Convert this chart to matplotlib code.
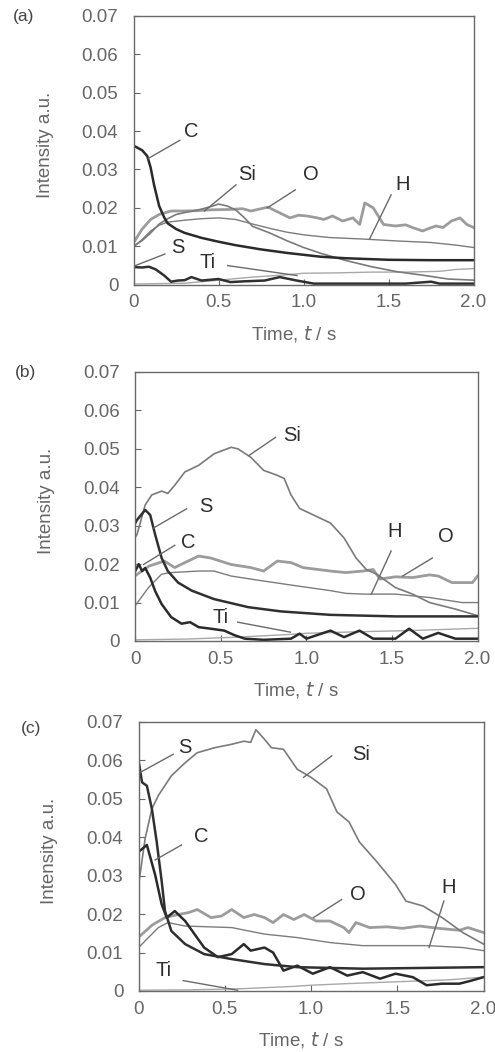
import numpy as np
import matplotlib
matplotlib.use("Agg")
import matplotlib.pyplot as plt

plt.rcParams['font.family'] = ['Liberation Sans', 'DejaVu Sans']

# ---------------- panel (a) ----------------
a_C_t = [0, 0.05, 0.08, 0.1, 0.12, 0.15, 0.18, 0.2, 0.25, 0.3, 0.4, 0.5, 0.6, 0.75, 0.9, 1.0, 1.1, 1.25, 1.5, 1.75, 2.0]
a_C = [0.0362, 0.035, 0.0335, 0.0305, 0.026, 0.0205, 0.0175, 0.016, 0.0145, 0.0135, 0.0122, 0.0112, 0.0103, 0.0092, 0.0083, 0.0078, 0.0073, 0.0069, 0.0065, 0.0064, 0.0064]
a_Si_t = [0, 0.05, 0.1, 0.15, 0.2, 0.25, 0.3, 0.35, 0.4, 0.45, 0.5, 0.55, 0.6, 0.65, 0.7, 0.8, 0.9, 1.0, 1.1, 1.25, 1.4, 1.55, 1.7, 1.85, 2.0]
a_Si = [0.0101, 0.0115, 0.0135, 0.0158, 0.0172, 0.0183, 0.0188, 0.0192, 0.0197, 0.0203, 0.021, 0.0205, 0.0195, 0.0175, 0.0152, 0.0135, 0.0115, 0.0097, 0.0082, 0.0063, 0.0047, 0.0034, 0.0025, 0.0015, 0.0012]
a_O_t = [0, 0.05, 0.1, 0.15, 0.22, 0.3, 0.38, 0.45, 0.57, 0.64, 0.69, 0.74, 0.79, 0.86, 0.92, 0.97, 1.02, 1.07, 1.12, 1.17, 1.23, 1.29, 1.33, 1.36, 1.41, 1.47, 1.54, 1.6, 1.64, 1.7, 1.74, 1.78, 1.82, 1.87, 1.92, 1.96, 2.0]
a_O = [0.011, 0.0145, 0.017, 0.0183, 0.0192, 0.0192, 0.0193, 0.0195, 0.0196, 0.0198, 0.0192, 0.0197, 0.0202, 0.0187, 0.0174, 0.0181, 0.0179, 0.0175, 0.017, 0.0179, 0.0166, 0.0174, 0.0157, 0.0213, 0.02, 0.0157, 0.0153, 0.0156, 0.0149, 0.014, 0.0147, 0.0153, 0.0149, 0.0166, 0.0174, 0.0157, 0.0149]
a_H_t = [0, 0.05, 0.1, 0.15, 0.2, 0.3, 0.4, 0.5, 0.6, 0.7, 0.8, 0.9, 1.0, 1.15, 1.35, 1.55, 1.75, 1.9, 2.0]
a_H = [0.0098, 0.0118, 0.014, 0.0155, 0.0163, 0.0168, 0.0172, 0.0174, 0.017, 0.0158, 0.0147, 0.0137, 0.013, 0.0123, 0.0119, 0.0114, 0.011, 0.0103, 0.0097]
a_S_t = [0, 0.05, 0.09, 0.13, 0.18, 0.22, 0.26, 0.3, 0.34, 0.4, 0.45, 0.5, 0.57, 0.65, 0.77, 0.86, 0.96, 1.06, 1.3, 1.6, 1.75, 1.8, 2.0]
a_S = [0.0046, 0.0045, 0.0047, 0.004, 0.0024, 0.0008, 0.0011, 0.0012, 0.002, 0.0011, 0.0013, 0.0015, 0.0007, 0.0009, 0.0011, 0.002, 0.0011, 0.0003, 0.0003, 0.0003, 0.0008, 0.0003, 0.0003]
a_Ti_t = [0, 0.3, 0.5, 0.7, 0.9, 1.0, 1.2, 1.4, 1.6, 1.8, 1.9, 2.0]
a_Ti = [0.0002, 0.0004, 0.0012, 0.002, 0.0026, 0.003, 0.0031, 0.0033, 0.0033, 0.0035, 0.004, 0.0042]

# ---------------- panel (b) ----------------
b_Si_t = [0, 0.01, 0.058, 0.096, 0.154, 0.19, 0.23, 0.29, 0.37, 0.46, 0.56, 0.6, 0.675, 0.75, 0.83, 0.87, 0.91, 0.96, 1.04, 1.14, 1.22, 1.29, 1.35, 1.41, 1.52, 1.62, 1.72, 1.87, 2.0]
b_Si = [0.027, 0.0277, 0.0354, 0.038, 0.039, 0.0384, 0.0405, 0.044, 0.0457, 0.0487, 0.0504, 0.05, 0.0478, 0.0444, 0.0431, 0.0423, 0.038, 0.0345, 0.0328, 0.0307, 0.0268, 0.0216, 0.0186, 0.0174, 0.0139, 0.0122, 0.01, 0.0083, 0.0066]
b_S_t = [0, 0.01, 0.058, 0.087, 0.116, 0.154, 0.19, 0.25, 0.33, 0.46, 0.66, 0.85, 1.14, 1.52, 2.0]
b_S = [0.0307, 0.0315, 0.0341, 0.0328, 0.0277, 0.0216, 0.0182, 0.0152, 0.0131, 0.0109, 0.0088, 0.0077, 0.0068, 0.0064, 0.0064]
b_C_t = [0, 0.02, 0.04, 0.058, 0.087, 0.116, 0.154, 0.21, 0.27, 0.32, 0.37, 0.44, 0.52, 0.58, 0.64, 0.75, 0.91, 0.96, 1.0, 1.14, 1.22, 1.31, 1.39, 1.52, 1.6, 1.68, 1.77, 1.87, 2.0]
b_C = [0.0182, 0.02, 0.0182, 0.019, 0.0165, 0.013, 0.0096, 0.0062, 0.0045, 0.0049, 0.0036, 0.0032, 0.0027, 0.0015, 0.0006, 0.0003, 0.0006, 0.0019, 0.0006, 0.0027, 0.001, 0.0027, 0.0006, 0.0006, 0.0032, 0.0006, 0.0021, 0.0006, 0.0006]
b_H_t = [0, 0.077, 0.154, 0.21, 0.37, 0.46, 0.56, 0.75, 0.95, 1.14, 1.23, 1.33, 1.52, 1.72, 1.91, 2.0]
b_H = [0.0092, 0.0139, 0.0174, 0.0178, 0.0182, 0.0182, 0.0169, 0.0156, 0.0143, 0.0131, 0.0124, 0.0122, 0.0122, 0.0113, 0.01, 0.01]
b_O_t = [0, 0.08, 0.17, 0.23, 0.29, 0.37, 0.44, 0.56, 0.675, 0.75, 0.83, 0.91, 0.98, 1.14, 1.23, 1.33, 1.39, 1.43, 1.52, 1.62, 1.72, 1.77, 1.85, 1.97, 2.0]
b_O = [0.017, 0.0195, 0.0208, 0.0191, 0.0204, 0.0221, 0.0216, 0.0199, 0.0191, 0.0182, 0.0208, 0.0204, 0.0191, 0.0182, 0.0178, 0.0182, 0.0186, 0.0161, 0.0167, 0.0165, 0.0172, 0.0169, 0.0152, 0.0152, 0.0169]
b_Ti_t = [0, 0.3, 0.6, 0.9, 1.0, 1.3, 1.6, 1.8, 2.0]
b_Ti = [0.0003, 0.0005, 0.001, 0.0017, 0.002, 0.0024, 0.0027, 0.003, 0.0033]

# ---------------- panel (c) ----------------
c_Si_t = [0, 0.038, 0.077, 0.115, 0.19, 0.27, 0.34, 0.44, 0.54, 0.61, 0.65, 0.68, 0.73, 0.77, 0.84, 0.92, 1.0, 1.09, 1.15, 1.22, 1.28, 1.38, 1.49, 1.55, 1.65, 1.76, 1.88, 2.0]
c_Si = [0.0277, 0.0397, 0.0474, 0.0509, 0.056, 0.0594, 0.062, 0.0633, 0.0642, 0.065, 0.0647, 0.068, 0.0655, 0.0633, 0.0629, 0.0577, 0.0556, 0.0526, 0.0466, 0.044, 0.0388, 0.0337, 0.0277, 0.0234, 0.0221, 0.0191, 0.0152, 0.0122]
c_S_t = [0, 0.02, 0.048, 0.077, 0.105, 0.134, 0.153, 0.19, 0.27, 0.38, 0.54, 0.73, 0.92, 1.3, 2.0]
c_S = [0.0599, 0.0543, 0.0534, 0.0474, 0.0388, 0.0285, 0.0208, 0.0156, 0.0122, 0.0096, 0.0083, 0.007, 0.0062, 0.0058, 0.0062]
c_C_t = [0, 0.048, 0.096, 0.134, 0.163, 0.21, 0.27, 0.38, 0.46, 0.54, 0.61, 0.65, 0.73, 0.78, 0.84, 0.92, 1.01, 1.11, 1.21, 1.3, 1.4, 1.49, 1.59, 1.67, 1.76, 1.86, 1.93, 2.0]
c_C = [0.0362, 0.038, 0.0302, 0.0225, 0.0191, 0.0208, 0.0182, 0.0113, 0.0088, 0.0096, 0.0122, 0.0105, 0.0113, 0.01, 0.0053, 0.0066, 0.0045, 0.0062, 0.004, 0.0049, 0.0032, 0.0045, 0.0036, 0.0015, 0.0019, 0.0019, 0.0027, 0.0036]
c_H_t = [0, 0.057, 0.115, 0.17, 0.27, 0.54, 0.73, 0.92, 1.11, 1.3, 1.49, 1.68, 1.88, 2.0]
c_H = [0.0113, 0.0139, 0.0165, 0.0178, 0.0169, 0.0165, 0.0148, 0.0139, 0.0126, 0.0118, 0.0118, 0.0118, 0.0113, 0.0105]
c_O_t = [0, 0.08, 0.153, 0.23, 0.29, 0.34, 0.42, 0.48, 0.54, 0.61, 0.67, 0.73, 0.78, 0.84, 0.9, 0.96, 1.03, 1.11, 1.19, 1.22, 1.26, 1.34, 1.44, 1.53, 1.63, 1.74, 1.86, 1.91, 2.0]
c_O = [0.014, 0.0172, 0.0191, 0.0199, 0.0204, 0.0212, 0.0191, 0.0195, 0.0212, 0.0191, 0.0199, 0.0191, 0.0178, 0.0199, 0.0186, 0.0199, 0.0182, 0.0182, 0.0165, 0.0152, 0.0178, 0.0165, 0.0167, 0.0163, 0.0169, 0.0163, 0.0158, 0.0165, 0.0152]
c_Ti_t = [0, 0.3, 0.6, 0.9, 1.0, 1.2, 1.5, 1.8, 2.0]
c_Ti = [0.0002, 0.0003, 0.0006, 0.0012, 0.0015, 0.0019, 0.0024, 0.0029, 0.0036]

# labels: name, text (t, v), leader start (t, v), leader end (t, v)
a_labels = [("C", (0.34, 0.0398), (0.272, 0.0376), (0.087, 0.0329)),
            ("Si", (0.67, 0.0286), (0.602, 0.026), (0.417, 0.0192)),
            ("O", (1.04, 0.0286), (0.951, 0.0247), (0.786, 0.020)),
            ("H", (1.58, 0.026), (1.515, 0.0234), (1.388, 0.0119)),
            ("S", (0.262, 0.0097), (0.184, 0.008), (0.01, 0.005)),
            ("Ti", (0.437, 0.0058), (0.553, 0.005), (0.961, 0.0024))]
b_labels = [("Si", (0.916, 0.0534), (0.82, 0.053), (0.665, 0.0483)),
            ("S", (0.415, 0.035), (0.30, 0.0344), (0.106, 0.0294)),
            ("C", (0.309, 0.0255), (0.231, 0.0249), (0.048, 0.0199)),
            ("H", (1.514, 0.0285), (1.495, 0.0234), (1.379, 0.0122)),
            ("O", (1.813, 0.0272), (1.736, 0.0216), (1.562, 0.0169)),
            ("Ti", (0.501, 0.0062), (0.598, 0.0049), (0.906, 0.0023))]
c_labels = [("S", (0.268, 0.0633), (0.201, 0.0616), (0.01, 0.0569)),
            ("Si", (1.292, 0.0616), (1.12, 0.0612), (0.957, 0.0556)),
            ("C", (0.364, 0.0401), (0.249, 0.038), (0.096, 0.0341)),
            ("O", (1.273, 0.0251), (1.177, 0.0238), (1.014, 0.0191)),
            ("H", (1.799, 0.0268), (1.77, 0.0234), (1.684, 0.0113)),
            ("Ti", (0.144, 0.0053), (0.258, 0.0027), (0.574, 0.0002))]

xticks = [0, 0.5, 1.0, 1.5, 2.0]
xticklabels = ["0", "0.5", "1.0", "1.5", "2.0"]
yticks = [0, 0.01, 0.02, 0.03, 0.04, 0.05, 0.06, 0.07]
yticklabels = ["0", "0.01", "0.02", "0.03", "0.04", "0.05", "0.06", "0.07"]

styles = {"Ti": ("#a8a8a8", 1.0), "H": ("#7c7c7c", 1.0), "O": ("#9c9c9c", 2.0),
          "Si": ("#7a7a7a", 1.2), "S": ("#303030", 1.8), "C": ("#2a2a2a", 1.8)}

panels = [
    ("(a)", (24, 16), [0.270, 0.7293, 0.6867, 0.2557],
     {"Ti": (a_Ti_t, a_Ti), "H": (a_H_t, a_H), "O": (a_O_t, a_O), "Si": (a_Si_t, a_Si),
      "S": (a_S_t, a_S), "C": (a_C_t, a_C)}, a_labels),
    ("(b)", (25, 372), [0.2733, 0.3907, 0.6915, 0.2557],
     {"Ti": (b_Ti_t, b_Ti), "H": (b_H_t, b_H), "O": (b_O_t, b_O), "Si": (b_Si_t, b_Si),
      "C": (b_C_t, b_C), "S": (b_S_t, b_S)}, b_labels),
    ("(c)", (31, 728), [0.280, 0.058, 0.6968, 0.2557],
     {"Ti": (c_Ti_t, c_Ti), "H": (c_H_t, c_H), "O": (c_O_t, c_O), "Si": (c_Si_t, c_Si),
      "C": (c_C_t, c_C), "S": (c_S_t, c_S)}, c_labels),
]

W, H = 495, 1052
fig = plt.figure(figsize=(W / 100, H / 100), dpi=100)

for tag, tagpos, rect, series, labels in panels:
    ax = fig.add_axes(rect)
    for name, (t, v) in series.items():
        col, lw = styles[name]
        ax.plot(t, v, color=col, lw=lw, solid_joinstyle='round')
    for name, txt, p0, p1 in labels:
        ax.plot([p0[0], p1[0]], [p0[1], p1[1]], color="#6a6a6a", lw=1.0)
        ax.text(txt[0], txt[1], name, fontsize=14.5, color="#2e2e2e",
                ha="center", va="center")
    ax.set_xlim(0, 2.0)
    ax.set_ylim(0, 0.07)
    ax.set_xticks(xticks)
    ax.set_xticklabels(xticklabels)
    ax.set_yticks(yticks)
    ax.set_yticklabels(yticklabels)
    ax.tick_params(direction="in", length=4, width=0.8, colors="#666666",
                   labelsize=13.5, labelcolor="#666666")
    ax.tick_params(axis="y", pad=11)
    ax.tick_params(axis="x", pad=7)
    for sp in ax.spines.values():
        sp.set_color("#6a6a6a")
        sp.set_linewidth(1.0)
    ax.set_ylabel("Intensity a.u.", fontsize=13.5, color="#666666")
    ax.yaxis.set_label_coords(-0.235, 0.52)
    ax.set_xlabel("Time, $\\it{t}$ / s", fontsize=13.5, color="#666666")
    ax.xaxis.set_label_coords(0.47, -0.145)
    fig.text(tagpos[0] / W, 1 - tagpos[1] / H, tag, fontsize=12.5,
             color="#444444", ha="center", va="center")

plt.savefig("out.png", dpi=100)
